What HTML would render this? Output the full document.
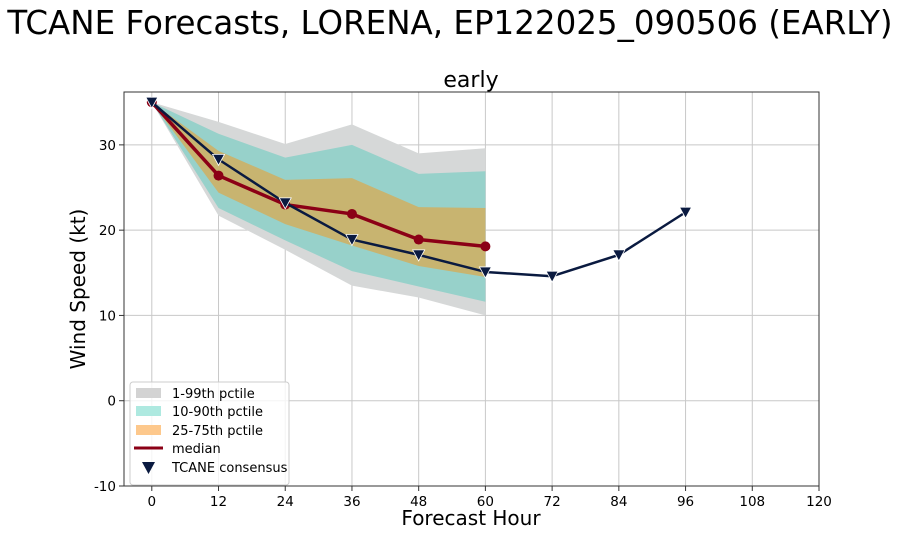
<!DOCTYPE html>
<html><head><meta charset="utf-8"><style>
html,body{margin:0;padding:0;background:#fff;}
svg text{font-family:"DejaVu Sans","Liberation Sans",sans-serif;}
</style></head><body>
<svg id="chart" width="900" height="535" viewBox="0 0 900 535" xmlns="http://www.w3.org/2000/svg">
<text x="450" y="34" font-size="32.5" text-anchor="middle">TCANE Forecasts, LORENA, EP122025_090506 (EARLY)</text>
<text x="471" y="87" font-size="22" text-anchor="middle">early</text>
<g id="grid"></g>
<g id="bands"></g>
<g id="lines"></g>
<rect x="124" y="92" width="695" height="394" fill="none" stroke="#333" stroke-width="1"/>
<g id="ticks"></g>
<text x="471" y="525" font-size="20" text-anchor="middle">Forecast Hour</text>
<text transform="translate(85,289) rotate(-90)" font-size="20" text-anchor="middle">Wind Speed (kt)</text>
<g>
<rect x="130" y="382" width="159" height="103" rx="3" fill="#fff" fill-opacity="0.8" stroke="#ccc"/>
<rect x="136" y="388" width="25" height="10" fill="#d3d3d3"/>
<text x="172" y="398" font-size="13">1-99th pctile</text>
<rect x="136" y="406" width="25" height="10" fill="#aee9e0"/>
<text x="172" y="416" font-size="13">10-90th pctile</text>
<rect x="136" y="425" width="25" height="10" fill="#fdc88c"/>
<text x="172" y="435" font-size="13">25-75th pctile</text>
<line x1="134" y1="448" x2="163" y2="448" stroke="#8b0016" stroke-width="3"/>
<text x="172" y="453" font-size="13">median</text>
<path d="M142,462 L155,462 L148.5,474 Z" fill="#0a1a40"/>
<text x="172" y="472" font-size="13">TCANE consensus</text>
</g>
</svg>
<script>
const hours = [0,12,24,36,48,60];
const p01 = [35,21.7,17.7,13.5,12.1,10.0];
const p99 = [35,32.7,30.1,32.4,29.0,29.6];
const p10 = [35,22.6,18.8,15.2,13.4,11.6];
const p90 = [35,31.3,28.5,30.0,26.6,26.9];
const p25 = [35,24.4,20.7,18.2,15.8,14.5];
const p75 = [35,29.3,25.9,26.1,22.7,22.6];
const median = [35,26.4,23.0,21.9,18.9,18.1];
const consHours = [0,12,24,36,48,60,72,84,96];
const consensus = [35,28.3,23.2,18.9,17.1,15.1,14.6,17.1,22.1];
const xTicks = [0,12,24,36,48,60,72,84,96,108,120];
const yTicks = [-10,0,10,20,30];

const NS='http://www.w3.org/2000/svg';
const X0=124,X1=819,Y0=92,Y1=486, xmin=-5,xmax=120,ymin=-10,ymax=36.2;
function xs(v){return X0+(v-xmin)/(xmax-xmin)*(X1-X0);}
function ys(v){return Y1-(v-ymin)/(ymax-ymin)*(Y1-Y0);}
function mk(tag,attrs,parent){const e=document.createElementNS(NS,tag);for(const k in attrs)e.setAttribute(k,attrs[k]);parent.appendChild(e);return e;}
const grid=document.getElementById('grid'),bands=document.getElementById('bands'),lines=document.getElementById('lines'),ticks=document.getElementById('ticks');
xTicks.forEach(t=>{
  const g=mk('line',{x1:xs(t),x2:xs(t),y1:Y0,y2:Y1,stroke:'#c8c8c8','stroke-width':1},grid);
  
  
  const tk=mk('line',{x1:xs(t),x2:xs(t),y1:Y1,y2:Y1+5,stroke:'#333'},ticks);
  
  
  const tx=mk('text',{x:xs(t),y:Y1+20,'font-size':13.5,'text-anchor':'middle'},ticks);
  tx.textContent=t;
  
  
});
yTicks.forEach(t=>{
  const g=mk('line',{x1:X0,x2:X1,y1:ys(t),y2:ys(t),stroke:'#c8c8c8','stroke-width':1},grid);
  
  
  const tk=mk('line',{x1:X0-5,x2:X0,y1:ys(t),y2:ys(t),stroke:'#333'},ticks);
  
  
  const tx=mk('text',{x:X0-8,y:ys(t)+5,'font-size':13.5,'text-anchor':'end'},ticks);
  tx.textContent=t;
  
  
});
function band(lo,hi,fill,name){
  let pts=hours.map((h,i)=>xs(h)+','+ys(hi[i]));
  pts=pts.concat(hours.slice().reverse().map((h,j)=>{const i=hours.length-1-j;return xs(h)+','+ys(lo[i]);}));
  const p=mk('polygon',{points:pts.join(' '),fill:fill},bands);
  
  
}
band(p01,p99,'#d6d8d8','band-1-99');
band(p10,p90,'#97d1ca','band-10-90');
band(p25,p75,'#c8b470','band-25-75');
const mline=mk('polyline',{points:hours.map((h,i)=>xs(h)+','+ys(median[i])).join(' '),fill:'none',stroke:'#8b0016','stroke-width':3.5,'stroke-linejoin':'round'},lines);


hours.forEach((h,i)=>{
  const c=mk('circle',{cx:xs(h),cy:ys(median[i]),r:5,fill:'#8b0016'},lines);
  
  
});
const cline=mk('polyline',{points:consHours.map((h,i)=>xs(h)+','+ys(consensus[i])).join(' '),fill:'none',stroke:'#0a1a40','stroke-width':2.5,'stroke-linejoin':'round'},lines);


consHours.forEach((h,i)=>{
  const x=xs(h),y=ys(consensus[i]);
  const t=mk('path',{d:`M${x-6},${y-5} L${x+6},${y-5} L${x},${y+6} Z`,fill:'#0a1a40',stroke:'#fff','stroke-width':0.8},lines);
  
  
});
</script>
</body></html>
